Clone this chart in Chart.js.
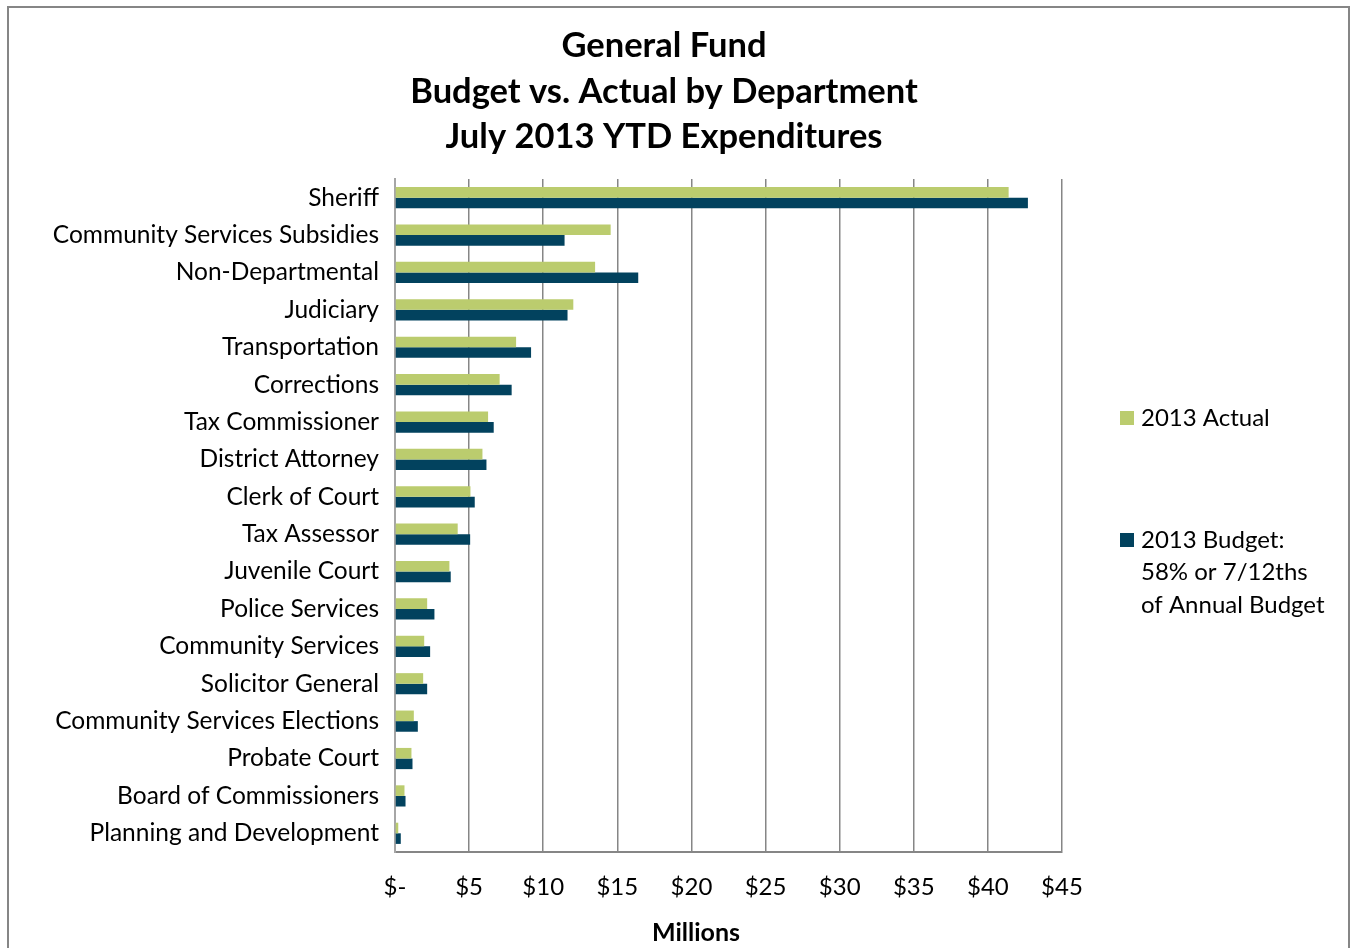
<!DOCTYPE html>
<html>
<head>
<meta charset="utf-8">
<script src="https://cdn.jsdelivr.net/npm/chart.js@4"></script>
<style>
  html, body { margin: 0; padding: 0; background: #fff; }
  #wrap { position: relative; width: 1353px; height: 948px; overflow: hidden; }
  #frame { position: absolute; left: 7px; top: 6px; width: 1343px; height: 1000px; border: 2px solid #868686; box-sizing: border-box; }
  #chart1 { position: absolute; left: 0; top: 0; }
</style>
</head>
<body>
<div id="wrap">
  <div id="frame"></div>
  <canvas id="chart1" width="1353" height="948"></canvas>
</div>
<script>
(() => {
  const departments = [
    "Sheriff", "Community Services Subsidies", "Non-Departmental", "Judiciary",
    "Transportation", "Corrections", "Tax Commissioner", "District Attorney",
    "Clerk of Court", "Tax Assessor", "Juvenile Court", "Police Services",
    "Community Services", "Solicitor General", "Community Services Elections",
    "Probate Court", "Board of Commissioners", "Planning and Development"
  ];
  const actual2013 = [
    41.4, 14.55, 13.5, 12.03, 8.17, 7.06, 6.28, 5.9, 5.09, 4.23,
    3.67, 2.17, 1.97, 1.9, 1.27, 1.11, 0.64, 0.22
  ];
  const budget2013 = [
    42.7, 11.44, 16.41, 11.64, 9.18, 7.87, 6.66, 6.17, 5.38, 5.07,
    3.76, 2.66, 2.37, 2.17, 1.54, 1.18, 0.71, 0.39
  ];
  const tickLabels = ["$-", "$5", "$10", "$15", "$20", "$25", "$30", "$35", "$40", "$45"];
  const titleLines = ["General Fund", "Budget vs. Actual by Department", "July 2013 YTD Expenditures"];
  const axisTitle = "Millions";
  const actualKey = ["2013 Actual"];
  const budgetKey = ["2013 Budget:", "58% or 7/12ths", "of Annual Budget"];

  const font = "Lato, 'Open Sans', sans-serif";

  // title block, axis caption and the side key, drawn straight onto the canvas
  const decorations = {
    id: "decorations",
    afterDraw(chart) {
      const ctx = chart.ctx;
      ctx.save();
      ctx.fillStyle = "#000";
      ctx.textBaseline = "middle";
      ctx.textAlign = "center";
      ctx.font = "bold 34.5px " + font;
      titleLines.forEach((line, i) => ctx.fillText(line, 664, 46 + i * 45.5));

      ctx.font = "bold 25px " + font;
      ctx.fillText(axisTitle, 696, 933);

      ctx.textAlign = "left";
      ctx.font = "24px " + font;
      const keys = [
        { lines: chart.data.datasets[0].keyLines, color: chart.data.datasets[0].backgroundColor, y: 418 },
        { lines: chart.data.datasets[1].keyLines, color: chart.data.datasets[1].backgroundColor, y: 540 }
      ];
      keys.forEach((k) => {
        ctx.fillStyle = k.color;
        ctx.fillRect(1120, k.y - 7, 14, 14);
        ctx.fillStyle = "#000";
        k.lines.forEach((line, i) => ctx.fillText(line, 1141, k.y + i * 32.5));
      });
      ctx.restore();
    }
  };

  const config = {
    type: "bar",
    data: {
      labels: departments,
      datasets: [
        {
          label: actualKey.join(" "),
          keyLines: actualKey,
          data: actual2013,
          backgroundColor: "#bbcc6e",
          categoryPercentage: 0.567,
          barPercentage: 1
        },
        {
          label: budgetKey.join(" "),
          keyLines: budgetKey,
          data: budget2013,
          backgroundColor: "#02425e",
          categoryPercentage: 0.567,
          barPercentage: 1
        }
      ]
    },
    options: {
      indexAxis: "y",
      responsive: false,
      animation: false,
      layout: { padding: { top: 179, right: 291, bottom: 0, left: 0 } },
      plugins: {
        legend: { display: false },
        title: { display: false },
        tooltip: { enabled: false }
      },
      scales: {
        x: {
          min: 0,
          max: 45,
          afterFit: (scale) => { scale.height = 96; },
          ticks: {
            stepSize: 5,
            padding: 21,
            color: "#000",
            font: { family: font, size: 24 },
            callback: (v, i) => tickLabels[i]
          },
          grid: { color: "#868686", lineWidth: 1.5, drawTicks: false },
          border: { color: "#868686", width: 2 }
        },
        y: {
          afterFit: (scale) => { scale.width = 395; },
          ticks: {
            padding: 16,
            color: "#000",
            font: { family: font, size: 24.5 }
          },
          grid: { display: false, drawTicks: false },
          border: { color: "#a6a6a6", width: 2 }
        }
      }
    },
    plugins: [decorations]
  };

  new Chart(document.getElementById("chart1"), config);
})();
</script>
</body>
</html>
